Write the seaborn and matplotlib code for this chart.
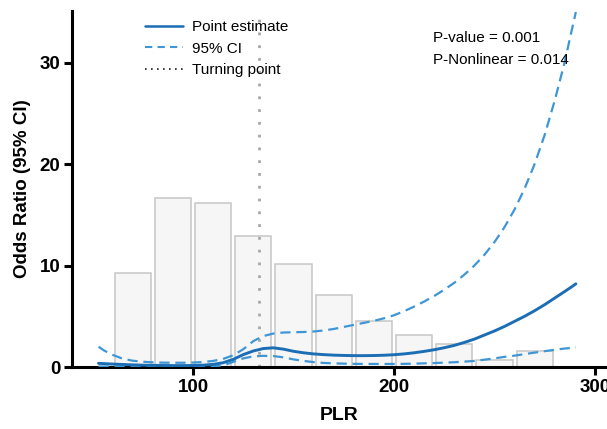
import numpy as np
import pandas as pd
import matplotlib
matplotlib.use("Agg")
import matplotlib.pyplot as plt
from matplotlib.lines import Line2D
import seaborn as sns

# Distribution of PLR (bar heights on the odds-ratio scale)
bin_edges = [60, 80, 100, 120, 140, 160, 180, 200, 220, 240, 260, 280]
bin_heights = [9.3, 16.65, 16.2, 12.95, 10.2, 7.05, 4.55, 3.15, 2.25, 0.7, 1.6]

# Restricted cubic spline fit: odds ratio and 95% CI along PLR
plr = [53, 56, 60, 65, 70, 75, 80, 85, 90, 95, 100, 105, 110, 115, 120, 125,
       130, 135, 140, 145, 150, 155, 160, 165, 170, 175, 180, 185, 190, 195,
       200, 205, 210, 215, 220, 225, 230, 235, 240, 245, 250, 255, 260, 265,
       270, 275, 280, 285, 288, 290.5]
or_point = [0.36, 0.33, 0.29, 0.25, 0.21, 0.18, 0.16, 0.15, 0.14, 0.14, 0.15,
            0.18, 0.26, 0.42, 0.75, 1.22, 1.58, 1.82, 1.89, 1.76, 1.55, 1.40,
            1.29, 1.22, 1.17, 1.14, 1.12, 1.12, 1.13, 1.16, 1.21, 1.29, 1.40,
            1.54, 1.70, 1.90, 2.13, 2.42, 2.75, 3.15, 3.55, 4.00, 4.50, 5.00,
            5.55, 6.15, 6.80, 7.45, 7.85, 8.20]
ci_upper = [2.0, 1.6, 1.2, 0.82, 0.62, 0.52, 0.46, 0.43, 0.42, 0.42, 0.44,
            0.49, 0.60, 0.80, 1.15, 1.75, 2.55, 3.05, 3.30, 3.40, 3.43, 3.45,
            3.50, 3.60, 3.75, 3.95, 4.15, 4.35, 4.55, 4.80, 5.10, 5.50, 5.95,
            6.45, 7.00, 7.62, 8.30, 9.10, 10.0, 11.06, 12.31, 13.79, 15.53,
            17.59, 20.02, 22.89, 26.28, 30.1, 32.8, 35.0]
ci_lower = [0.05, 0.05, 0.05, 0.05, 0.05, 0.05, 0.05, 0.05, 0.05, 0.05, 0.05,
            0.06, 0.08, 0.15, 0.50, 0.85, 1.05, 1.10, 1.08, 0.95, 0.75, 0.60,
            0.48, 0.40, 0.36, 0.33, 0.31, 0.30, 0.30, 0.30, 0.30, 0.31, 0.33,
            0.36, 0.39, 0.43, 0.47, 0.53, 0.60, 0.72, 0.85, 1.00, 1.12, 1.27,
            1.42, 1.56, 1.70, 1.82, 1.88, 1.94]

turning_point = 133
p_value = "0.001"
p_nonlinear = "0.014"

curve = pd.DataFrame({"PLR": plr, "OR": or_point,
                      "upper": ci_upper, "lower": ci_lower})
bin_centers = [(a + b) / 2 for a, b in zip(bin_edges[:-1], bin_edges[1:])]

sns.set_style("ticks")
plt.rcParams["font.family"] = ["Liberation Sans", "DejaVu Sans"]
plt.rcParams.update({"text.color": "black", "axes.labelcolor": "black",
                     "xtick.color": "black", "ytick.color": "black",
                     "axes.edgecolor": "black"})

W, H = 607, 429
fig = plt.figure(figsize=(W / 100, H / 100), dpi=100)
ax = fig.add_axes([72 / W, 1 - 367 / H, (W - 72) / W, (367 - 11) / H])

solid_c = "#1b6db4"
dash_c = "#3f96d6"

sns.histplot(x=bin_centers, weights=bin_heights, bins=bin_edges, shrink=0.9,
             color="#f6f6f6", edgecolor="#c6c6c6", linewidth=1.1, alpha=1,
             ax=ax, zorder=1)

ax.axvline(turning_point, ymin=0, ymax=0.989, color="#a8a8a8", lw=2.0,
           linestyle=(0, (1, 3.6)), zorder=2)

sns.lineplot(data=curve, x="PLR", y="upper", color=dash_c, lw=1.6,
             linestyle=(0, (4.6, 2.6)), ax=ax, zorder=3)
sns.lineplot(data=curve, x="PLR", y="lower", color=dash_c, lw=1.6,
             linestyle=(0, (4.6, 2.6)), ax=ax, zorder=3)
sns.lineplot(data=curve, x="PLR", y="OR", color=solid_c, lw=2.1,
             ax=ax, zorder=4)

ax.set_xlim(39.8, 306)
ax.set_ylim(0, 35.1)
ax.set_xticks([100, 200, 300])
ax.set_yticks([0, 10, 20, 30])
sns.despine(ax=ax)
for side in ("left", "bottom"):
    ax.spines[side].set_linewidth(2.2)
    ax.spines[side].set_color("black")
ax.tick_params(axis="both", width=2.2, length=6, pad=2.5,
               labelsize=13.5, color="black", labelcolor="black")
for lab in ax.get_xticklabels() + ax.get_yticklabels():
    lab.set_fontweight("bold")

ax.set_xlabel("PLR", fontsize=14, fontweight="bold", labelpad=8)
ax.set_ylabel("Odds Ratio (95% CI)", fontsize=13.5, fontweight="bold")
ax.yaxis.set_label_coords((31 - 72) / (W - 72), 0.5)

handles = [
    Line2D([], [], color=solid_c, lw=1.8),
    Line2D([], [], color=dash_c, lw=1.5, linestyle=(0, (3.5, 2.5))),
    Line2D([], [], color="#222222", lw=1.2, linestyle=(0, (1, 2.6))),
]
ax.legend(handles, ["Point estimate", "95% CI", "Turning point"],
          loc="upper left", bbox_to_anchor=(145 / W, 1 - 20 / H),
          bbox_transform=fig.transFigure, frameon=False, fontsize=11,
          handlelength=2.5, handletextpad=0.6, labelspacing=0.5,
          borderpad=0, borderaxespad=0)

ax.text((433 - 72) / (W - 72), (367 - 38) / 356, f"P-value = {p_value}",
        transform=ax.transAxes, fontsize=11, va="center", ha="left")
ax.text((433 - 72) / (W - 72), (367 - 60) / 356,
        f"P-Nonlinear = {p_nonlinear}",
        transform=ax.transAxes, fontsize=11, va="center", ha="left")

fig.savefig("out.png", dpi=100)
